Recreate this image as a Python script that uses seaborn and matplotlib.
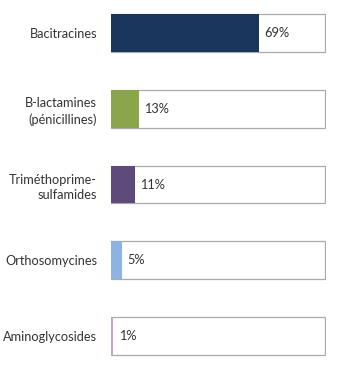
import matplotlib
matplotlib.use("Agg")
import matplotlib.pyplot as plt
import seaborn as sns
import pandas as pd

categories = ["Bacitracines", "B-lactamines\n(pénicillines)", "Triméthoprime-\nsulfamides", "Orthosomycines", "Aminoglycosides"]
values = [69, 13, 11, 5, 1]
labels = ["69%", "13%", "11%", "5%", "1%"]
colors = ["#1B365D", "#8BA64A", "#5E4A7B", "#8DB3E2", "#C9A0CF"]
totals = [100, 100, 100, 100, 100]

sns.set_theme(style="white")
plt.rcParams["font.family"] = ["Lato", "DejaVu Sans"]

df = pd.DataFrame({"cat": categories, "val": values, "tot": totals})

fig = plt.figure(figsize=(3.44, 3.70), dpi=100)
ax = fig.add_axes([111/344, 0, 215/344, 1])

sns.barplot(data=df, y="cat", x="tot", color="white", edgecolor="#AAAAAA",
            linewidth=0.9, width=0.5, ax=ax, orient="h")
sns.barplot(data=df, y="cat", x="val", hue="cat", palette=colors, legend=False,
            linewidth=0, width=0.5, ax=ax, orient="h", saturation=1)

for i, (v, lab) in enumerate(zip(values, labels)):
    ax.text(v + 2.6, i, lab, va="center", ha="left", fontsize=9.2, color="#333333")

ax.set_xlim(0, 100.3)
ax.set_ylim(4.449, -0.436)
ax.set_xlabel("")
ax.set_ylabel("")
ax.set_xticks([])
ax.tick_params(axis="y", length=0, pad=10, labelsize=9.2, labelcolor="#333333")
for lbl in ax.get_yticklabels():
    lbl.set_horizontalalignment("right")
    lbl.set_multialignment("right")
    lbl.set_linespacing(1.35)
for s in ax.spines.values():
    s.set_visible(False)

fig.savefig("out.png", dpi=100)
